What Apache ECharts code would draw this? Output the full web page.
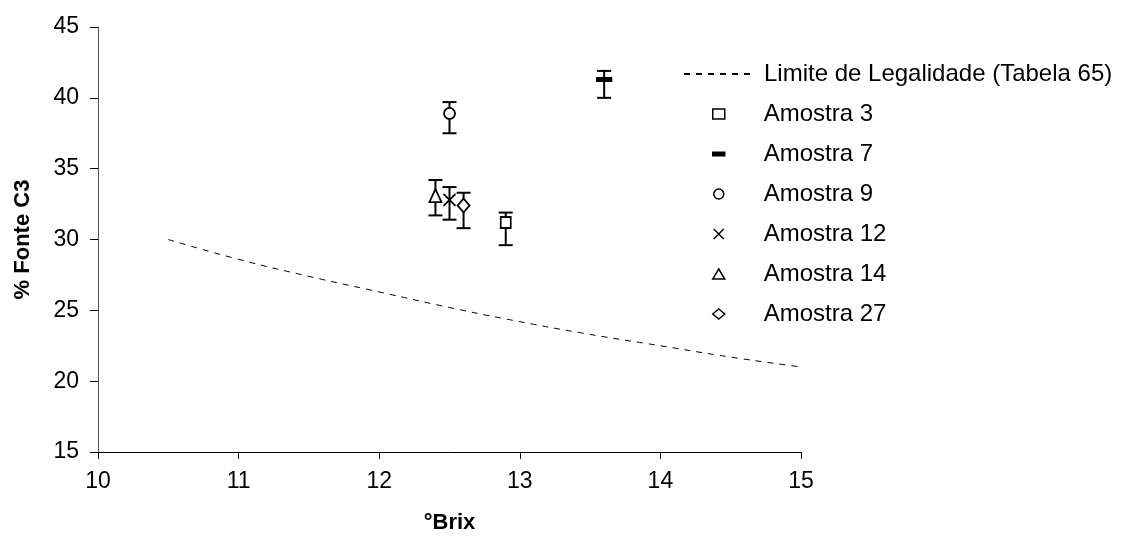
<!DOCTYPE html>
<html>
<head>
<meta charset="utf-8">
<script src="https://cdn.jsdelivr.net/npm/echarts@6/dist/echarts.min.js"></script>
<style>
  html, body { margin: 0; padding: 0; background: #fff; }
  #chart { width: 1127px; height: 544px; }
</style>
</head>
<body>
<div id="chart"></div>
<script>
// ---- data ----
const sampleNames = ['Amostra 3', 'Amostra 7', 'Amostra 9', 'Amostra 12', 'Amostra 14', 'Amostra 27'];
const sampleBrix  = [12.9, 13.6, 12.5, 12.5, 12.4, 12.6];
const sampleC3    = [31.2, 41.3, 38.9, 32.8, 33.1, 32.4];
const errLow      = [29.6, 40.0, 37.5, 31.4, 31.7, 30.8];
const errHigh     = [31.9, 41.9, 39.7, 33.7, 34.2, 33.3];
const limitName   = 'Limite de Legalidade (Tabela 65)';
const limitBrix   = [10.5, 11, 11.5, 12, 12.5, 13, 13.5, 14, 14.5, 15];
const limitC3     = [30.0, 28.6, 27.4, 26.3, 25.2, 24.2, 23.3, 22.5, 21.7, 21.0];
const xTicks      = [10, 11, 12, 13, 14, 15];
const yTicks      = [15, 20, 25, 30, 35, 40, 45];

// ---- styles ----
const FONT = 'Liberation Sans, Arial, sans-serif';
const symbols = {
  'Amostra 3':  { symbol: 'rect', size: [10, 11], fill: '#fff' },
  'Amostra 7':  { symbol: 'rect', size: [13, 4], fill: '#000' },
  'Amostra 9':  { symbol: 'circle', size: 11, fill: '#fff' },
  'Amostra 12': { symbol: 'path://M0,0L10,10M10,0L0,10', size: 12, fill: '#fff' },
  'Amostra 14': { symbol: 'triangle', size: [12, 13], fill: '#fff' },
  'Amostra 27': { symbol: 'diamond', size: [12, 14], fill: '#fff' }
};
const legendIcons = {
  'Amostra 7': 'path://M0,0H12V3.5H0Z',
  'Amostra 12': 'path://M0,0L10,10M10,0L0,10'
};

const chart = echarts.init(document.getElementById('chart'), null, { renderer: 'canvas' });

const errData = sampleNames.map((n, i) => [sampleBrix[i], errLow[i], errHigh[i]]);

const series = [
  {
    name: limitName,
    type: 'line',
    data: limitBrix.map((x, i) => [x, limitC3[i]]),
    smooth: true,
    showSymbol: false,
    symbol: 'none',
    lineStyle: { color: '#000', width: 1, type: [6, 6] },
    itemStyle: { color: '#000' },
    z: 2
  },
  {
    name: 'err',
    type: 'custom',
    data: errData,
    encode: { x: 0, y: [1, 2] },
    renderItem: function (params, api) {
      const x = api.value(0);
      const lo = api.coord([x, api.value(1)]);
      const hi = api.coord([x, api.value(2)]);
      const w = 7;
      const st = { stroke: '#000', lineWidth: 2 };
      return {
        type: 'group',
        children: [
          { type: 'line', shape: { x1: lo[0], y1: lo[1], x2: hi[0], y2: hi[1] }, style: st },
          { type: 'line', shape: { x1: hi[0] - w, y1: hi[1], x2: hi[0] + w, y2: hi[1] }, style: st },
          { type: 'line', shape: { x1: lo[0] - w, y1: lo[1], x2: lo[0] + w, y2: lo[1] }, style: st }
        ]
      };
    },
    z: 3,
    silent: true
  }
];

sampleNames.forEach((n, i) => {
  const s = symbols[n];
  series.push({
    name: n,
    type: 'scatter',
    data: [[sampleBrix[i], sampleC3[i]]],
    symbol: s.symbol,
    symbolSize: s.size,
    itemStyle: { color: s.fill, borderColor: '#000', borderWidth: 1.8, opacity: 1 },
    z: 5
  });
});

const option = {
  backgroundColor: '#fff',
  animation: false,
  grid: { left: 98, right: 326, top: 27, bottom: 92, containLabel: false },
  xAxis: {
    type: 'value',
    min: xTicks[0], max: xTicks[xTicks.length - 1], interval: 1,
    name: '°Brix',
    nameLocation: 'middle',
    nameGap: 60,
    nameTextStyle: { fontFamily: FONT, fontSize: 22, fontWeight: 'bold', color: '#000' },
    axisLine: { show: true, lineStyle: { color: '#000', width: 1 } },
    axisTick: { show: true, inside: false, length: 7, lineStyle: { color: '#000' } },
    axisLabel: { fontFamily: FONT, fontSize: 23, color: '#000', margin: 18 },
    splitLine: { show: false }
  },
  yAxis: {
    type: 'value',
    min: yTicks[0], max: yTicks[yTicks.length - 1], interval: 5,
    name: '% Fonte C3',
    nameLocation: 'middle',
    nameGap: 64,
    nameRotate: 90,
    nameTextStyle: { fontFamily: FONT, fontSize: 22, fontWeight: 'bold', color: '#000' },
    axisLine: { show: true, lineStyle: { color: '#555', width: 1 } },
    axisTick: { show: true, inside: false, length: 8, lineStyle: { color: '#000' } },
    axisLabel: { fontFamily: FONT, fontSize: 23, color: '#000', margin: 19 },
    splitLine: { show: false }
  },
  legend: [
    {
      data: [{ name: limitName, itemStyle: { opacity: 0 } }],
      orient: 'vertical',
      left: 678,
      top: 57,
      itemWidth: 70,
      itemHeight: 10,
      selectedMode: false,
      itemStyle: { opacity: 0 },
      textStyle: { fontFamily: FONT, fontSize: 24, color: '#000', lineHeight: 24, padding: [0, 0, 0, 5] }
    },
    {
      data: sampleNames.map(n => {
        const d = { name: n, itemStyle: { color: symbols[n].fill, borderColor: '#000', borderWidth: 1.5 } };
        if (legendIcons[n]) d.icon = legendIcons[n];
        return d;
      }),
      orient: 'vertical',
      left: 707,
      top: 97,
      itemWidth: 12,
      itemHeight: 10,
      itemGap: 16,
      selectedMode: false,
      textStyle: { fontFamily: FONT, fontSize: 24, color: '#000', lineHeight: 24, padding: [0, 0, 0, 34] }
    }
  ],
  series: series
};

chart.setOption(option);
</script>
</body>
</html>
